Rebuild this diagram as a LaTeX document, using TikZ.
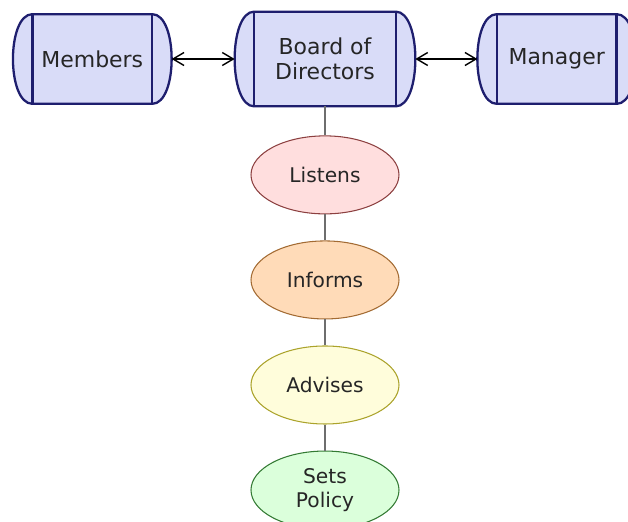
\documentclass[tikz,border=0pt]{standalone}
\usepackage{fontspec}
\setmainfont{DejaVu Sans}
\usetikzlibrary{arrows.meta, positioning, shapes.geometric, backgrounds}

\definecolor{drumfill}{HTML}{D9DCF8}
\definecolor{drumedge}{HTML}{1E1E6E}
\definecolor{inktext}{HTML}{262626}
\definecolor{stemgrey}{HTML}{6E6E6E}

\begin{document}
\begin{tikzpicture}[
  node distance=0.52cm,
  drum/.style={rectangle, align=center, font=\fontsize{12.5}{14.5}\selectfont, text=inktext, minimum width=3.16cm, minimum height=1.78cm, inner sep=0pt},
  drumline/.style={draw=drumedge, fill=drumfill, line width=1.3pt},
  act/.style={ellipse, draw, line width=0.6pt, align=center, font=\fontsize{11.5}{14}\selectfont, text=inktext, minimum width=2.96cm, minimum height=1.56cm, inner sep=0pt},
  stem/.style={draw=stemgrey, line width=1.1pt},
  arr/.style={draw, {Straight Barb[length=2.2mm, width=2.6mm]}-{Straight Barb[length=2.2mm, width=2.6mm]}, line width=0.8pt}
]
\useasboundingbox (-6.5,1.18) rectangle (6.06,-9.24);

\node[drum, minimum width=3.6cm, minimum height=1.88cm] (bod) {Board of\\Directors};
\node[drum, left=1.26cm of bod] (mem) {Members};
\node[drum, right=1.24cm of bod] (mgr) {Manager};

\node[act, below=0.58cm of bod, fill=red!13, draw=red!40!black!75] (listen) {Listens};
\node[act, below=of listen, fill=orange!28, draw=orange!55!black!80] (inform) {Informs};
\node[act, below=of inform, fill=yellow!14, draw=olive!75] (advise) {Advises};
\node[act, below=of advise, fill=green!14, draw=green!35!black!80] (policy) {Sets\\Policy};

% drum outlines behind the labels
\begin{scope}[on background layer]
\foreach \n in {mem, bod, mgr} {
  \filldraw[drumline] ([xshift=0.39cm]\n.north west) -- ([xshift=-0.39cm]\n.north east) .. controls ([xshift=0.13cm]\n.north east) and ([xshift=0.13cm]\n.south east) .. ([xshift=-0.39cm]\n.south east) -- ([xshift=0.39cm]\n.south west) .. controls ([xshift=-0.13cm]\n.south west) and ([xshift=-0.13cm]\n.north west) .. cycle;
  \draw[drumline, fill=none] ([xshift=0.39cm]\n.north west) -- ([xshift=0.39cm]\n.south west) ([xshift=-0.39cm]\n.north east) -- ([xshift=-0.39cm]\n.south east);
}
\end{scope}

\draw[arr] (mem) -- (bod); \draw[arr] (bod) -- (mgr);
\draw[stem] (bod) -- (listen); \draw[stem] (listen) -- (inform); \draw[stem] (inform) -- (advise); \draw[stem] (advise) -- (policy);
\end{tikzpicture}
\end{document}
